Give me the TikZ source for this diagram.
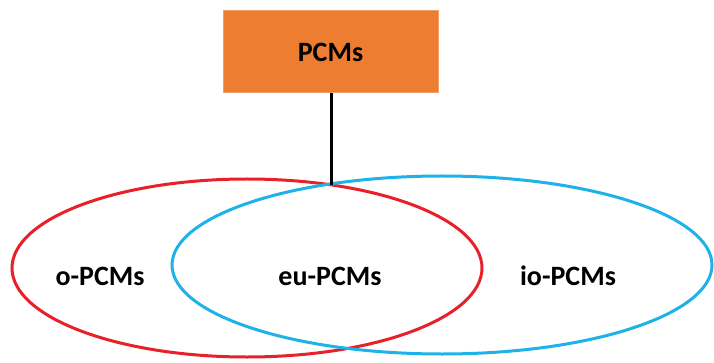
\documentclass[tikz,border=0pt]{standalone}
\usepackage{fontspec}
\setmainfont{Carlito}
\usetikzlibrary{shapes.geometric,positioning}
\definecolor{boxorange}{HTML}{ED7D31}
\definecolor{boxedge}{HTML}{F2A06A}
\definecolor{setred}{HTML}{E8202A}
\definecolor{setblue}{HTML}{1EB2E8}

\begin{document}
\begin{tikzpicture}[
    x=1pt, y=-1pt,
    topbox/.style={draw=boxedge, line width=1pt, fill=boxorange, minimum width=215pt, minimum height=82pt, font=\fontsize{28}{34}\selectfont\bfseries},
    setring/.style={draw, ellipse, line width=3pt, minimum height=178pt},
    lbl/.style={font=\fontsize{28}{34}\selectfont\bfseries},
    link/.style={line width=3pt, black}
]
\useasboundingbox (0,0) rectangle (714,363);
\node[topbox] (pcms) at (330.5,52) {PCMs};
\node[setring, draw=setred, minimum width=470pt] (oset) at (247,268) {};
\node[setring, draw=setblue, minimum width=540pt] (ioset) at (442,265) {};
\coordinate (meet) at (331,185);

\node[lbl] (olbl) at (100,276) {o-PCMs};
\node[lbl] (eulbl) at (330,276) {eu-PCMs};
\node[lbl] (iolbl) at (568,276) {io-PCMs};

\draw[link] (pcms.south -| meet) -- (meet);
\end{tikzpicture}
\end{document}
